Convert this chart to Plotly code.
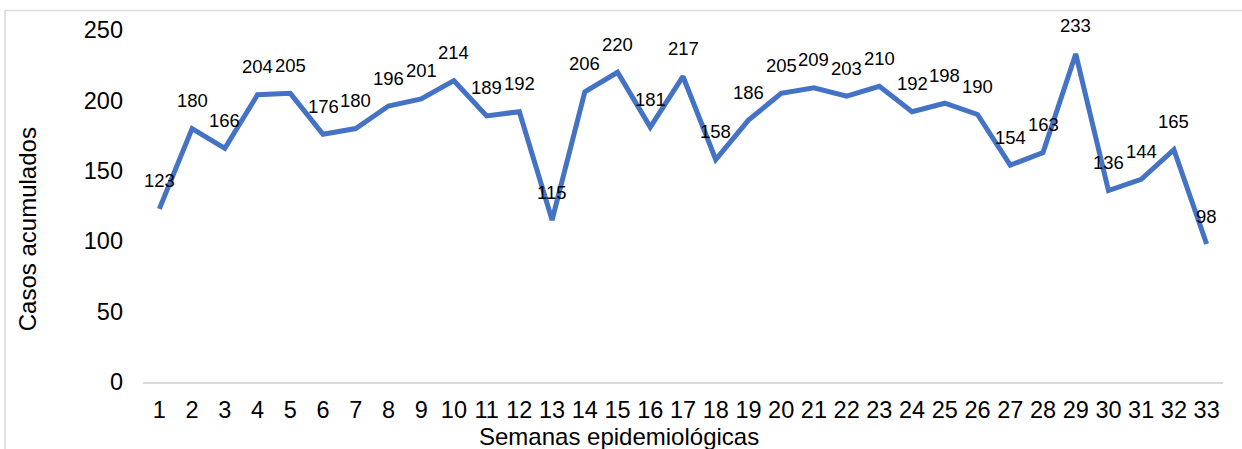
import plotly.graph_objects as go

# Weekly accumulated cases by epidemiological week
semanas = list(range(1, 34))
casos = [123, 180, 166, 204, 205, 176, 180, 196, 201, 214, 189, 192, 115, 206, 220,
         181, 217, 158, 186, 205, 209, 203, 210, 192, 198, 190, 154, 163, 233, 136,
         144, 165, 98]
y_ticks = [0, 50, 100, 150, 200, 250]

FONT = "Arial, Liberation Sans, sans-serif"
W, H = 1242, 449
L, R, T, B = 143, 19, 29.5, 67
pw, ph = W - L - R, H - T - B


def px_to_paper_x(px):
    return (px - L) / pw


def px_to_paper_y(py):
    return (H - B - py) / ph


fig = go.Figure()
fig.add_trace(go.Scatter(
    x=semanas, y=casos, mode="lines",
    line=dict(color="#4472C4", width=5),
    hoverinfo="x+y",
))

# value labels above each point
for s, c in zip(semanas, casos):
    fig.add_annotation(x=s, y=c, text=str(c), showarrow=False, yshift=28,
                       xanchor="center", yanchor="middle",
                       font=dict(family=FONT, size=18.5, color="#000000"))

# axis titles
fig.add_annotation(xref="paper", yref="paper", x=px_to_paper_x(619), y=px_to_paper_y(437),
                   xanchor="center", yanchor="middle",
                   text="Semanas epidemiológicas", showarrow=False,
                   font=dict(family=FONT, size=24, color="#000000"))
fig.add_annotation(xref="paper", yref="paper", x=px_to_paper_x(27), y=px_to_paper_y(229),
                   xanchor="center", yanchor="middle",
                   text="Casos acumulados", showarrow=False, textangle=-90,
                   font=dict(family=FONT, size=24, color="#000000"))

# chart frame
fig.add_shape(type="rect", xref="paper", yref="paper",
              x0=px_to_paper_x(5), x1=px_to_paper_x(1260),
              y0=px_to_paper_y(470), y1=px_to_paper_y(10),
              line=dict(color="#D9D9D9", width=1.5), fillcolor="rgba(0,0,0,0)", layer="below")

fig.update_layout(
    width=W, height=H,
    margin=dict(l=L, r=R, t=T, b=B, pad=0),
    plot_bgcolor="white", paper_bgcolor="white",
    showlegend=False,
    font=dict(family=FONT, size=23.5, color="#000000"),
    xaxis=dict(
        range=[0.5, 33.5], tickmode="array", tickvals=semanas,
        ticktext=[str(s) for s in semanas],
        showgrid=False, zeroline=False,
        showline=True, linecolor="#D9D9D9", linewidth=1.5,
        ticks="", ticklabelstandoff=6,
        tickfont=dict(family=FONT, size=23.5, color="#000000"),
    ),
    yaxis=dict(
        range=[0, 250], tickmode="array", tickvals=y_ticks,
        showgrid=False, zeroline=False, showline=False,
        ticks="", ticklabelstandoff=19,
        tickfont=dict(family=FONT, size=23.5, color="#000000"),
    ),
)

fig.write_html("out.html")
